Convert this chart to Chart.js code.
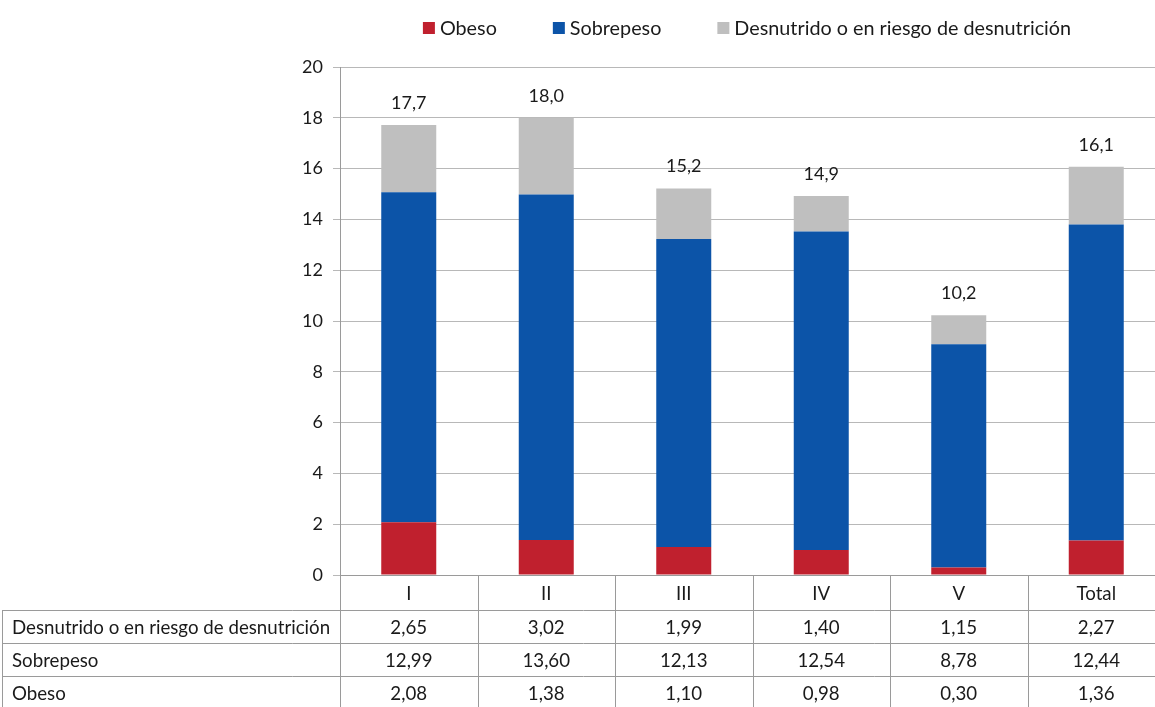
<!DOCTYPE html>
<html>
<head>
<meta charset="utf-8">
<script src="https://cdn.jsdelivr.net/npm/chart.js@4"></script>
<style>
  html, body { margin: 0; padding: 0; background: #fff; overflow: hidden; }
  #wrap { width: 1165px; height: 707px; }
</style>
</head>
<body>
<div id="wrap"><canvas id="grafico"></canvas></div>
<script>
const categorias = ['I', 'II', 'III', 'IV', 'V', 'Total'];
const obeso = [2.08, 1.38, 1.10, 0.98, 0.30, 1.36];
const sobrepeso = [12.99, 13.60, 12.13, 12.54, 8.78, 12.44];
const desnutrido = [2.65, 3.02, 1.99, 1.40, 1.15, 2.27];

const FAMILIA = 'Lato, "Noto Sans", sans-serif';
const TXT = '#1a1a1a';
const LINEA = '#9a9a9a';

const coma = (v, d) => v.toFixed(d).replace('.', ',');

// total encima de cada barra + leyenda + tabla de datos
const extras = {
  id: 'extras',
  afterDraw(chart) {
    const c = chart.ctx;
    const area = chart.chartArea;
    const x = chart.scales.x;
    const y = chart.scales.y;
    const paso = (area.right - area.left) / categorias.length;

    c.save();
    c.font = '18px ' + FAMILIA;
    c.fillStyle = TXT;

    // totales
    c.textAlign = 'center';
    c.textBaseline = 'bottom';
    categorias.forEach((cat, i) => {
      const total = obeso[i] + sobrepeso[i] + desnutrido[i];
      c.fillText(coma(total, 1), x.getPixelForValue(i), y.getPixelForValue(total) - 13);
    });

    // leyenda
    c.font = '19.8px ' + FAMILIA;
    const items = chart.data.datasets.map(ds => ({ txt: ds.label, col: ds.backgroundColor }));
    const caja = 12, sep = 5, hueco = 56;
    let ancho = 0;
    items.forEach((it, k) => { ancho += caja + sep + c.measureText(it.txt).width + (k < items.length - 1 ? hueco : 0); });
    let lx = 747 - ancho / 2;
    const ly = 28;
    c.textAlign = 'left';
    c.textBaseline = 'middle';
    items.forEach(it => {
      c.fillStyle = it.col;
      c.fillRect(lx, ly - caja / 2, caja, caja);
      lx += caja + sep;
      c.fillStyle = TXT;
      c.fillText(it.txt, lx, ly + 1);
      lx += c.measureText(it.txt).width + hueco;
    });

    // tabla
    c.font = '18.7px ' + FAMILIA;
    const filas = [
      ['Desnutrido o en riesgo de desnutrición', desnutrido],
      ['Sobrepeso', sobrepeso],
      ['Obeso', obeso],
    ];
    const top0 = area.bottom;
    const top1 = area.bottom + 35;
    const alto = 33;
    const fondo = chart.height;
    c.strokeStyle = LINEA;
    c.lineWidth = 1;
    c.beginPath();
    for (let i = 0; i <= categorias.length; i++) {
      const vx = Math.round(area.left + i * paso) + 0.5;
      c.moveTo(vx, top0);
      c.lineTo(vx, fondo);
    }
    c.moveTo(2.5, top1);
    c.lineTo(2.5, fondo);
    for (let r = 0; r <= filas.length; r++) {
      const hy = Math.round(top1 + r * alto) + 0.5;
      c.moveTo(2, hy);
      c.lineTo(area.right, hy);
    }
    c.stroke();

    c.fillStyle = TXT;
    c.textBaseline = 'middle';
    filas.forEach((f, r) => {
      const cy = top1 + r * alto + alto / 2 + 1;
      c.textAlign = 'left';
      c.fillText(f[0], 12, cy);
      c.textAlign = 'center';
      f[1].forEach((v, i) => c.fillText(coma(v, 2), x.getPixelForValue(i), cy));
    });
    c.restore();
  }
};

new Chart(document.getElementById('grafico'), {
  type: 'bar',
  data: {
    labels: categorias,
    datasets: [
      { label: 'Obeso', data: obeso, backgroundColor: '#c0202e' },
      { label: 'Sobrepeso', data: sobrepeso, backgroundColor: '#0c54a8' },
      { label: 'Desnutrido o en riesgo de desnutrición', data: desnutrido, backgroundColor: '#bfbfbf' },
    ],
  },
  options: {
    responsive: true,
    maintainAspectRatio: false,
    animation: false,
    layout: { padding: { top: 67, right: 0, left: 0, bottom: 0 } },
    datasets: { bar: { categoryPercentage: 1, barPercentage: 0.4 } },
    plugins: { legend: { display: false }, tooltip: { enabled: false } },
    scales: {
      x: {
        stacked: true,
        grid: { display: false, drawTicks: false },
        border: { display: true, color: LINEA },
        ticks: { color: TXT, font: { size: 18.7, family: FAMILIA }, padding: 8 },
        afterFit(s) { s.height = 132; },
      },
      y: {
        stacked: true,
        min: 0,
        max: 20,
        grid: { color: '#b8b8b8', tickLength: 7 },
        border: { color: LINEA },
        ticks: { stepSize: 2, color: TXT, font: { size: 18, family: FAMILIA }, padding: 10 },
        afterFit(s) { s.width = 340; },
      },
    },
  },
  plugins: [extras],
});
</script>
</body>
</html>
